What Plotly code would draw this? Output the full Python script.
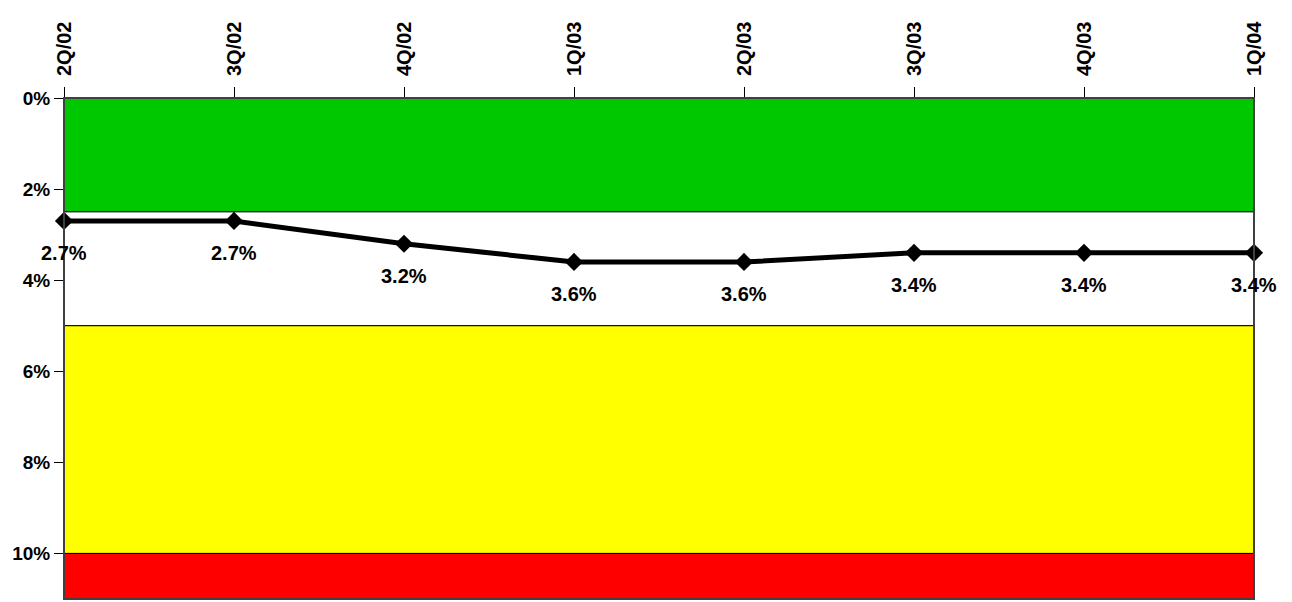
import plotly.graph_objects as go

quarters = ["2Q/02", "3Q/02", "4Q/02", "1Q/03", "2Q/03", "3Q/03", "4Q/03", "1Q/04"]
values = [2.7, 2.7, 3.2, 3.6, 3.6, 3.4, 3.4, 3.4]
labels = ["2.7%", "2.7%", "3.2%", "3.6%", "3.6%", "3.4%", "3.4%", "3.4%"]
band_low = [0, 2.5, 5, 10]
band_high = [2.5, 5, 10, 11]
band_colors = ["#00C800", "#FFFFFF", "#FFFF00", "#FF0000"]
y_ticks = [0, 2, 4, 6, 8, 10]
y_tick_labels = ["0%", "2%", "4%", "6%", "8%", "10%"]

FONT = "Liberation Sans"
x_idx = list(range(len(quarters)))

fig = go.Figure()
fig.add_trace(go.Scatter(
    x=x_idx, y=values, mode="lines+markers",
    line=dict(color="black", width=5),
    marker=dict(symbol="diamond", size=14, color="black"),
    showlegend=False, hoverinfo="skip", cliponaxis=False,
))

shapes = []
for lo, hi, c in zip(band_low, band_high, band_colors):
    shapes.append(dict(type="rect", xref="x", yref="y", x0=0, x1=len(quarters) - 1,
                       y0=lo, y1=hi, fillcolor=c, line=dict(color="black", width=1),
                       layer="below"))
shapes.append(dict(type="rect", xref="paper", yref="paper", x0=0, x1=1, y0=0, y1=1,
                   line=dict(color="#404040", width=2), fillcolor="rgba(0,0,0,0)",
                   layer="above"))

annotations = []
for xi, v, t in zip(x_idx, values, labels):
    annotations.append(dict(x=xi, y=v, text="<b>" + t + "</b>", showarrow=False,
                            yshift=-32, font=dict(family=FONT, size=20, color="black")))

fig.update_layout(
    width=1284, height=594,
    margin=dict(l=56, r=38, t=90, b=3, autoexpand=False),
    paper_bgcolor="white", plot_bgcolor="white",
    shapes=shapes, annotations=annotations,
    xaxis=dict(
        range=[0, len(quarters) - 1], side="top", automargin=False,
        tickmode="array", tickvals=x_idx, ticktext=["<b>" + q + "</b>" for q in quarters],
        tickangle=-90, ticks="outside", ticklen=10, tickcolor="black",
        ticklabelstandoff=7,
        tickfont=dict(family=FONT, size=20, color="black"),
        showgrid=False, zeroline=False, showline=False,
    ),
    yaxis=dict(
        range=[11, 0], tickmode="array", tickvals=y_ticks, automargin=False,
        ticktext=["<b>" + t + "</b>" for t in y_tick_labels],
        ticks="outside", ticklen=9, tickcolor="black",
        ticklabelstandoff=0,
        tickfont=dict(family=FONT, size=19, color="black"),
        showgrid=False, zeroline=False, showline=True, linecolor="black", linewidth=1,
    ),
)

fig.write_html("out.html")
